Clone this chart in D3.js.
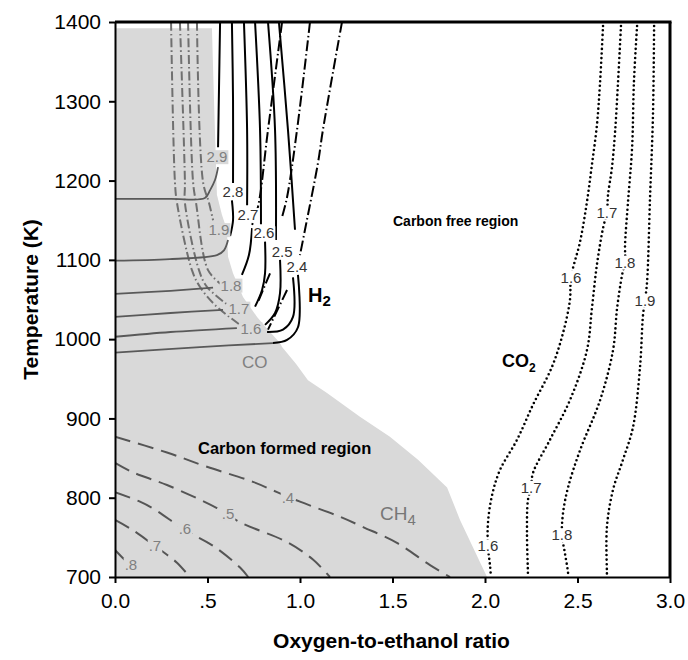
<!DOCTYPE html>
<html>
<head>
<meta charset="utf-8">
<script src="https://cdn.jsdelivr.net/npm/d3@7"></script>
<style>
  body { margin: 0; background: #fff; }
  svg { display: block; font-family: Arial, "Liberation Sans", sans-serif; }
</style>
</head>
<body>
<svg id="chart" width="688" height="660"></svg>
<script>
// ---- axes ----
const xTickValues = [0, 0.5, 1, 1.5, 2, 2.5, 3];
const xTickLabels = ["0.0", ".5", "1.0", "1.5", "2.0", "2.5", "3.0"];
const yTickValues = [700, 800, 900, 1000, 1100, 1200, 1300, 1400];

// ---- carbon formation boundary [O2/EtOH ratio, T (K)] ----
const carbonRegion = [[0,1392],[0.524,1392],[0.535,1302],[0.551,1182],[0.578,1157],[0.605,1138],
  [0.611,1104],[0.638,1083],[0.692,1053],[0.768,1028],[0.827,1012],[0.892,995],[0.903,990],
  [0.978,969],[1.043,948],[1.146,932],[1.324,902],[1.486,877],[1.638,848],[1.795,813],
  [1.865,772],[2.011,700],[0,700]];

// ---- H2 contours: parts inside the carbon formed region (grey) ----
const h2Grey = [
  [[0,1177],[0.30,1177],[0.486,1178],[0.514,1188],[0.541,1201],[0.557,1217]],
  [[0,1099],[0.297,1101],[0.551,1106],[0.589,1112],[0.611,1125]],
  [[0,1057],[0.30,1061],[0.53,1065]],
  [[0,1028],[0.30,1033],[0.584,1037]],
  [[0,1003],[0.30,1009],[0.659,1014]],
  [[0,983],[0.459,990],[0.854,995]]
];
// ---- H2 contours in the carbon free region (solid black) ----
const h2Solid = [
  [[0.568,1400],[0.562,1314],[0.557,1242]],
  [[0.632,1400],[0.638,1302],[0.638,1197]],
  [[0.622,1130],[0.638,1150],[0.632,1175]],
  [[0.697,1400],[0.714,1264],[0.714,1169]],
  [[0.741,1140],[0.724,1106],[0.686,1081]],
  [[0.757,1400],[0.784,1264],[0.789,1145]],
  [[0.811,1123],[0.811,1083],[0.795,1062],[0.757,1041]],
  [[0.827,1400],[0.865,1264],[0.870,1125]],
  [[0.892,1100],[0.892,1058],[0.865,1033],[0.811,1018]],
  [[0.886,1400],[0.935,1264],[0.973,1138]],
  [[0.962,1078],[0.962,1028],[0.908,1012],[0.822,1009]],
  [[0.854,995],[0.930,999],[0.989,1015],[0.989,1081]]
];
// ---- companion dash-dot contours (black) ----
const h2DashDot = [
  [[0.903,1400],[0.827,1264],[0.773,1167],[0.741,1144]],
  [[1.054,1400],[0.984,1264],[0.930,1179],[0.903,1154]],
  [[0.838,1083],[0.773,1047]],
  [[1.227,1400],[1.124,1264],[1.097,1222],[1.027,1138],[1.0,1106]],
  [[0.930,1062],[0.827,1012]]
];
const h2LabelText = ["2.8", "2.7", "2.6", "2.5", "2.4"];
const h2LabelPos = [[0.638,1186],[0.719,1157],[0.805,1134],[0.903,1111],[0.984,1092]];

// ---- CO contours (grey dash-dot) ----
const coDashDot = [
  [[0.443,1400],[0.476,1198],[0.508,1172],[0.530,1150]],
  [[0.395,1400],[0.422,1198],[0.438,1172],[0.503,1087],[0.57,1070]],
  [[0.351,1400],[0.378,1198],[0.378,1172],[0.454,1087],[0.497,1066],[0.616,1042]],
  [[0.303,1400],[0.324,1198],[0.335,1172],[0.416,1087],[0.459,1066],[0.541,1043],[0.676,1018]]
];
const greyLabelText = ["2.9", "1.9", "1.8", "1.7", "1.6"];
const greyLabelPos = [[0.551,1230],[0.562,1138],[0.627,1068],[0.670,1039],[0.735,1013]];

// ---- CH4 contours (dashed) ----
const ch4Lines = [
  [[0,877],[0.281,857],[0.497,839],[0.746,820],[0.876,807],[1.0,795],[1.216,776],[1.341,763],[1.524,743],[1.703,715],[1.811,700]],
  [[0,844],[0.097,832],[0.281,816],[0.551,787],[0.676,769],[0.930,744],[1.070,722],[1.162,700]],
  [[0,807],[0.135,795],[0.216,785],[0.373,760],[0.497,744],[0.551,736],[0.676,712],[0.72,700]],
  [[0,772],[0.097,759],[0.216,739],[0.281,728],[0.335,718],[0.405,700]],
  [[0,734],[0.038,725],[0.08,716]]
];
const ch4LabelText = [".4", ".5", ".6", ".7", ".8"];
const ch4LabelPos = [[0.935,800],[0.611,780],[0.378,761],[0.216,739],[0.086,716]];

// ---- CO2 contours (dotted) ----
const co2Lines = [
  [[2.638,1395],[2.622,1324],[2.605,1270],[2.578,1220],[2.551,1173],[2.514,1123],[2.465,1078],[2.459,1049],
   [2.422,1008],[2.362,965],[2.259,917],[2.173,873],[2.081,835],[2.038,803],[2.016,768],[2.016,738],[2.027,715],[2.032,700]],
  [[2.735,1395],[2.719,1324],[2.703,1261],[2.686,1216],[2.665,1182],[2.659,1160],[2.638,1140],[2.605,1094],
   [2.578,1039],[2.551,986],[2.459,923],[2.351,873],[2.259,831],[2.249,813],[2.232,797],[2.227,755],[2.232,705],[2.232,700]],
  [[2.822,1395],[2.805,1324],[2.795,1241],[2.773,1173],[2.757,1119],[2.757,1097],[2.741,1081],[2.714,1039],
   [2.692,986],[2.622,923],[2.514,860],[2.449,813],[2.422,781],[2.416,753],[2.432,730],[2.449,705],[2.449,700]],
  [[2.914,1395],[2.908,1283],[2.892,1178],[2.876,1072],[2.865,1049],[2.854,1030],[2.838,965],[2.800,889],
   [2.746,848],[2.692,810],[2.659,763],[2.659,705],[2.659,700]]
];
const co2LabelText = ["1.6", "1.7", "1.8", "1.9", "1.6", "1.7", "1.8"];
const co2LabelPos = [[2.465,1078],[2.659,1160],[2.757,1097],[2.865,1049],[2.016,739],[2.249,813],[2.416,753]];

// ---- layout ----
const margin = { left: 115, top: 22, right: 18, bottom: 83 };
const W = 688, H = 660;
const svg = d3.select("#chart");
const x = d3.scaleLinear().domain([0, 3]).range([margin.left, W - margin.right]);
const y = d3.scaleLinear().domain([700, 1400]).range([H - margin.bottom, margin.top]);

svg.append("defs").append("clipPath").attr("id", "plot")
  .append("rect").attr("x", x(0)).attr("y", y(1400)).attr("width", x(3) - x(0)).attr("height", y(700) - y(1400));

const plot = svg.append("g").attr("clip-path", "url(#plot)");

// carbon formed region
plot.append("path")
  .datum(carbonRegion)
  .attr("d", d3.line().x(d => x(d[0])).y(d => y(d[1])))
  .attr("fill", "#d9d9d9");

const smooth = d3.line().x(d => x(d[0])).y(d => y(d[1])).curve(d3.curveCatmullRom.alpha(0.5));

function drawLines(data, stroke, width, dash, cap) {
  plot.append("g").selectAll("path").data(data).join("path")
    .attr("d", smooth)
    .attr("fill", "none")
    .attr("stroke", stroke)
    .attr("stroke-width", width)
    .attr("stroke-linecap", cap || "butt")
    .attr("stroke-linejoin", "round")
    .attr("stroke-dasharray", dash || null);
}

drawLines(ch4Lines, "#555", 2, "16,8");
drawLines(coDashDot, "#707070", 2, "9,3,1.5,3");
drawLines(h2Grey, "#595959", 1.8);
drawLines(h2DashDot, "#000", 2, "11,3,1.5,3");
drawLines(h2Solid, "#000", 2);
drawLines(co2Lines, "#000", 2.6, "0,4.6", "round");

// contour labels, each on a small patch of the background colour that breaks the line
function drawLabels(texts, pos, fill, bg, size) {
  const g = plot.append("g")
    .attr("text-anchor", "middle")
    .attr("font-size", size);
  const items = g.selectAll("g").data(texts).join("g");
  const txt = items.append("text")
    .attr("x", (d, i) => x(pos[i][0]))
    .attr("y", (d, i) => y(pos[i][1]))
    .attr("dy", "0.36em")
    .attr("fill", fill)
    .text(d => d);
  txt.each(function () {
    const b = this.getBBox();
    d3.select(this.parentNode).insert("rect", "text")
      .attr("x", b.x - 1).attr("y", b.y + 2)
      .attr("width", b.width + 2).attr("height", b.height - 3)
      .attr("fill", bg);
  });
}

drawLabels(ch4LabelText, ch4LabelPos, "#808080", "#d9d9d9", 15);
drawLabels(greyLabelText, greyLabelPos, "#808080", "#d9d9d9", 15);
drawLabels(h2LabelText, h2LabelPos, "#333", "#fff", 15);
drawLabels(co2LabelText, co2LabelPos, "#333", "#fff", 15);

// region and species annotations
const ann = svg.append("g");
ann.append("text").attr("x", 393).attr("y", 226).attr("font-size", 14).attr("font-weight", "bold").text("Carbon free region");
ann.append("text").attr("x", 198).attr("y", 454).attr("font-size", 16.5).attr("font-weight", "bold").text("Carbon formed region");
const h2t = ann.append("text").attr("x", 308).attr("y", 302).attr("font-size", 20).attr("font-weight", "bold");
h2t.append("tspan").text("H");
h2t.append("tspan").attr("font-size", 15).attr("dy", 4).text("2");
ann.append("text").attr("x", 242).attr("y", 368).attr("font-size", 17).attr("fill", "#808080").text("CO");
const co2t = ann.append("text").attr("x", 502).attr("y", 367).attr("font-size", 18).attr("font-weight", "bold");
co2t.append("tspan").text("CO");
co2t.append("tspan").attr("font-size", 12).attr("dy", 5).text("2");
const ch4t = ann.append("text").attr("x", 380).attr("y", 520).attr("font-size", 19).attr("fill", "#777");
ch4t.append("tspan").text("CH");
ch4t.append("tspan").attr("font-size", 15).attr("dy", 5).text("4");

// axes
const xAxis = svg.append("g").attr("transform", `translate(0,${y(700)})`)
  .call(d3.axisBottom(x).tickValues(xTickValues).tickFormat((d, i) => xTickLabels[i]).tickSize(6).tickSizeOuter(0).tickPadding(10));
const yAxis = svg.append("g").attr("transform", `translate(${x(0)},0)`)
  .call(d3.axisLeft(y).tickValues(yTickValues).tickFormat(d3.format("d")).tickSize(6).tickSizeOuter(0).tickPadding(8));
[xAxis, yAxis].forEach(a => {
  a.select(".domain").attr("stroke", "#000").attr("stroke-width", 2);
  a.selectAll(".tick line").attr("stroke", "#000").attr("stroke-width", 2);
  a.selectAll(".tick text").attr("font-size", 21).attr("fill", "#000").attr("font-family", "Arial, 'Liberation Sans', sans-serif");
});

// top and right frame
svg.append("line").attr("x1", x(0)).attr("x2", x(3) + 1.5).attr("y1", y(1400)).attr("y2", y(1400)).attr("stroke", "#000").attr("stroke-width", 3);
svg.append("line").attr("x1", x(3)).attr("x2", x(3)).attr("y1", y(1400)).attr("y2", y(700)).attr("stroke", "#000").attr("stroke-width", 3);

// axis titles
svg.append("text").attr("x", (x(0) + x(3)) / 2 - 1).attr("y", 648).attr("text-anchor", "middle")
  .attr("font-size", 21).attr("font-weight", "bold").text("Oxygen-to-ethanol ratio");
svg.append("text").attr("transform", `translate(38,${(y(700) + y(1400)) / 2}) rotate(-90)`).attr("text-anchor", "middle")
  .attr("font-size", 21).attr("font-weight", "bold").text("Temperature (K)");
</script>
</body>
</html>
